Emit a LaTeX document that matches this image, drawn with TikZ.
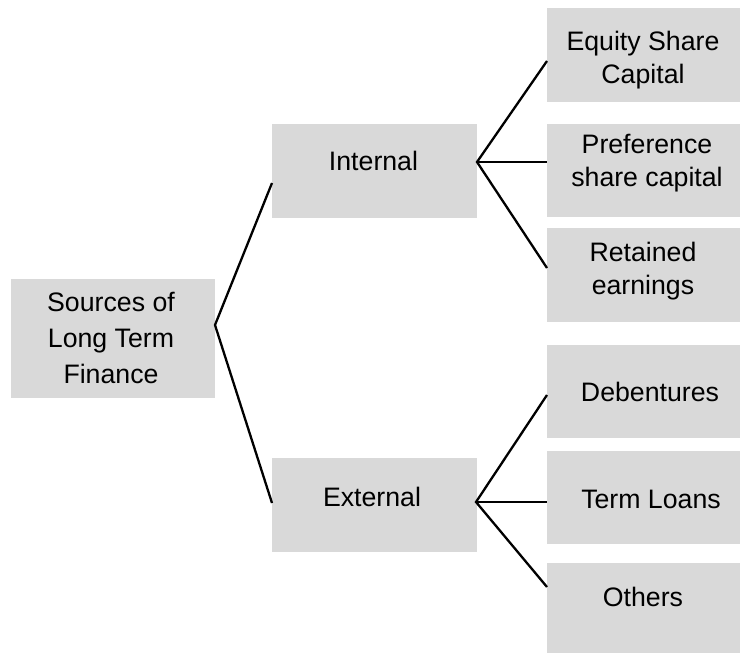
\documentclass[tikz,border=0pt]{standalone}
\usepackage{fontspec}
\setmainfont{Liberation Sans}
\begin{document}
\begin{tikzpicture}[x=1pt,y=-1pt,
  box/.style={draw=none,fill=boxgray,minimum width=#1,inner sep=0pt,outer sep=0pt},
  lbl/.style={inner sep=0pt,align=center,font=\fontsize{26.7}{33}\selectfont},
  conn/.style={line width=2.3pt,black}]
\definecolor{boxgray}{HTML}{D9D9D9}
\useasboundingbox (0,0) rectangle (740,653);
% boxes
\node[box=204pt,minimum height=119pt] (src) at (113,338.5) {};
\node[box=205pt,minimum height=94pt] (int) at (374.5,171) {};
\node[box=205pt,minimum height=94pt] (ext) at (374.5,505) {};
\node[box=193pt,minimum height=94pt] (eq) at (643.5,55) {};
\node[box=193pt,minimum height=93pt] (pref) at (643.5,170.5) {};
\node[box=193pt,minimum height=94pt] (ret) at (643.5,275) {};
\node[box=193pt,minimum height=93pt] (deb) at (643.5,391.5) {};
\node[box=193pt,minimum height=93pt] (term) at (643.5,497) {};
\node[box=193pt,minimum height=92pt] (oth) at (643.5,609) {};
% labels
\node[lbl,font=\fontsize{26.7}{36}\selectfont] (srcT) at (111,337.7) {Sources of\\Long Term\\Finance};
\node[lbl,anchor=base] (intT) at (373.5,170) {Internal};
\node[lbl,anchor=base] (extT) at (372,506) {External};
\node[lbl] (eqT) at (643,59.6) {Equity Share\\Capital};
\node[lbl] (prefT) at (647,163) {Preference\\share capital};
\node[lbl] (retT) at (643,271) {Retained\\earnings};
\node[lbl,anchor=base] (debT) at (650,401) {Debentures};
\node[lbl,anchor=base] (termT) at (651,508.5) {Term Loans};
\node[lbl,anchor=base] (othT) at (643,606.5) {Others};
% connector points
\coordinate (srcR) at (215,325);
\coordinate (intL) at (272,183);
\coordinate (extL) at (272,503);
\coordinate (intR) at (477,162);
\coordinate (extR) at (476,502);
\coordinate (eqL) at (547,61);
\coordinate (prefL) at (547,162);
\coordinate (retL) at (547,268);
\coordinate (debL) at (547,395);
\coordinate (termL) at (547,502);
\coordinate (othL) at (547,587);
% connectors
\draw[conn] (intL) -- (srcR) -- (extL);
\draw[conn] (eqL) -- (intR) -- (retL);
\draw[conn] (intR) -- (prefL);
\draw[conn] (debL) -- (extR) -- (othL);
\draw[conn] (extR) -- (termL);
\end{tikzpicture}
\end{document}
